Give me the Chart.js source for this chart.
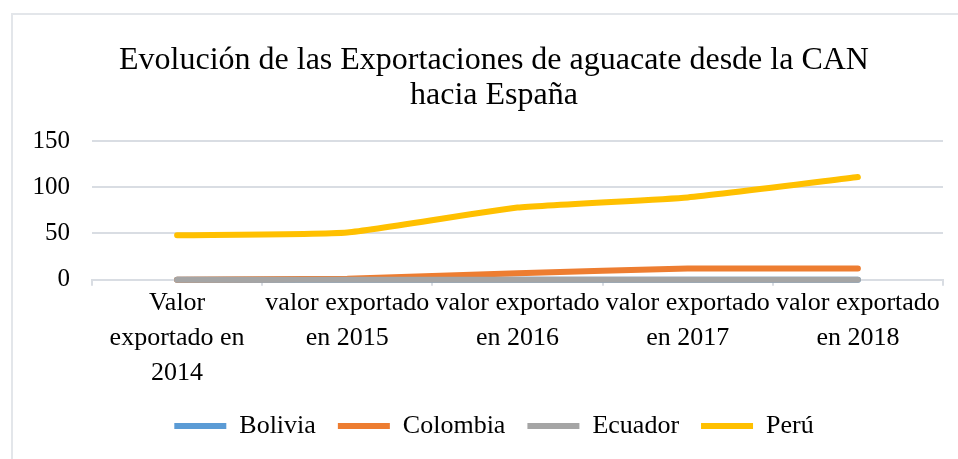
<!DOCTYPE html>
<html>
<head>
<meta charset="utf-8">
<script src="https://cdn.jsdelivr.net/npm/chart.js@4.4.1/dist/chart.umd.min.js"></script>
<style>
  html, body { margin: 0; padding: 0; background: #fff; overflow: hidden; }
  #marco { position: absolute; left: 11px; top: 13px; width: 1000px; height: 500px; border: 2px solid #e3e6ea; }
  #caja { position: absolute; left: 0; top: 0; width: 958px; height: 459px; }
</style>
</head>
<body>
<div id="marco"></div>
<div id="caja"><canvas id="grafico"></canvas></div>
<script>
// Categorías y valores (miles de USD aprox.)
const categorias = [
  ['Valor', 'exportado en', '2014'],
  ['valor exportado', 'en 2015'],
  ['valor exportado', 'en 2016'],
  ['valor exportado', 'en 2017'],
  ['valor exportado', 'en 2018']
];
const bolivia = [0, 0, 0, 0, 0];
const colombia = [0, 1, 7, 12, 12];
const ecuador = [0, 0, 0, 0, 0];
const peru = [48, 51, 78, 89, 111];
const ticksY = [0, 50, 100, 150];

const serif = '"Liberation Serif", "Times New Roman", serif';

function serie(nombre, datos, color, orden) {
  return {
    label: nombre,
    data: datos,
    borderColor: color,
    backgroundColor: color,
    borderWidth: 6,
    borderCapStyle: 'round',
    borderJoinStyle: 'round',
    pointRadius: 0,
    pointHoverRadius: 0,
    tension: 0.15,
    fill: false,
    clip: false,
    order: orden
  };
}

const ctx = document.getElementById('grafico').getContext('2d');
new Chart(ctx, {
  type: 'line',
  data: {
    labels: categorias,
    datasets: [
      serie('Bolivia', bolivia, '#5b9bd5', 3),
      serie('Colombia', colombia, '#ed7d31', 2),
      serie('Ecuador', ecuador, '#a5a5a5', 1),
      serie('Perú', peru, '#ffc000', 0)
    ]
  },
  options: {
    responsive: true,
    maintainAspectRatio: false,
    animation: false,
    layout: { padding: { left: 30, right: 0, top: 0, bottom: 10 } },
    plugins: {
      title: {
        display: true,
        text: ['Evolución de las Exportaciones de aguacate desde la CAN', 'hacia España'],
        color: '#000',
        font: { family: serif, size: 32, weight: 'normal', lineHeight: 1.094 },
        padding: { top: 43, bottom: 28 }
      },
      legend: {
        position: 'bottom',
        labels: {
          color: '#000',
          font: { family: serif, size: 26 },
          usePointStyle: true,
          pointStyle: 'line',
          pointStyleWidth: 52,
          padding: 22,
          sort: (a, b) => a.datasetIndex - b.datasetIndex
        }
      },
      tooltip: { enabled: false }
    },
    scales: {
      x: {
        offset: true,
        border: { display: true, color: '#d9dde3', width: 2 },
        grid: { offset: true, drawOnChartArea: false, drawTicks: true, tickLength: 6, color: '#d9dde3', lineWidth: 2 },
        ticks: {
          color: '#000',
          font: { family: serif, size: 26, lineHeight: 1.35 },
          maxRotation: 0,
          autoSkip: false,
          padding: 0
        }
      },
      y: {
        min: 0,
        max: 150,
        afterFit: (escala) => { escala.width = 62; },
        afterBuildTicks: (escala) => { escala.ticks = ticksY.map(v => ({ value: v })); },
        border: { display: false },
        grid: { color: '#d9dde3', lineWidth: 2, drawTicks: false },
        ticks: {
          color: '#000',
          font: { family: serif, size: 25 },
          padding: 22
        }
      },
      // eje vacío a la derecha, solo reserva el margen
      derecha: {
        position: 'right',
        min: 0,
        max: 150,
        afterFit: (escala) => { escala.width = 15; },
        border: { display: false },
        grid: { display: false },
        ticks: { display: false }
      }
    }
  }
});
</script>
</body>
</html>
